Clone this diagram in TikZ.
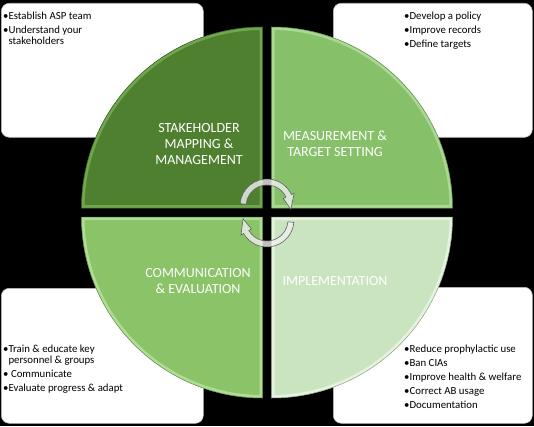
\documentclass[tikz,border=0pt]{standalone}
\usepackage{fontspec}
\setmainfont{Carlito}
\usepackage{tikz}
\usetikzlibrary{positioning,calc}
\definecolor{stkgreen}{RGB}{78,128,47}
\definecolor{stkedge}{RGB}{112,166,78}
\definecolor{meagreen}{RGB}{134,193,106}
\definecolor{meaedge}{RGB}{170,216,146}
\definecolor{comgreen}{RGB}{138,195,104}
\definecolor{comedge}{RGB}{176,220,150}
\definecolor{impgreen}{RGB}{202,228,191}
\definecolor{impedge}{RGB}{228,243,222}
\tikzset{
  infobox/.style ={draw=gray!55, fill=white, rounded corners=8pt, line width=0.6pt, anchor=north west, inner sep=0pt},
  notetext/.style={align=left, inner sep=0pt, font=\fontsize{10.8}{11.5}\selectfont},
  qlabel/.style  ={align=center, text=white, inner sep=0pt, font=\fontsize{14}{16}\selectfont},
  cycarrow/.style={fill=white!88!gray, fill opacity=0.8, draw=gray!75!black, line width=0.6pt},
}
% one quarter disc: corner x, corner y, start angle, fill, edge
\newcommand{\quadsec}[5]{%
  \begin{scope}
    \clip (#1,#2) -- ++(#3:181) arc[start angle=#3, delta angle=90, radius=181] -- cycle;
    \fill[#4] (#1,#2) -- ++(#3:181) arc[start angle=#3, delta angle=90, radius=181] -- cycle;
    \draw[#5, line width=6pt] (#1,#2) -- ++(#3:181) arc[start angle=#3, delta angle=90, radius=181] -- cycle;
  \end{scope}
  \draw[#4!70!black, line width=0.5pt] (#1,#2) -- ++(#3:181) arc[start angle=#3, delta angle=90, radius=181] -- cycle;}
\begin{document}
\begin{tikzpicture}[x=1pt,y=1pt]
  \fill[black] (0,0) rectangle (534,426);
  \useasboundingbox (0,0) rectangle (534,426);

  % corner boxes
  \node[infobox, minimum width=202pt, minimum height=134pt] (boxtl) at (1,423) {};
  \node[infobox, minimum width=199pt, minimum height=134pt] (boxtr) at (333,423) {};
  \node[infobox, minimum width=202pt, minimum height=135pt] (boxbl) at (1,138) {};
  \node[infobox, minimum width=199pt, minimum height=136pt] (boxbr) at (333,139) {};

  \node[notetext, below right=8.6pt and 2pt of boxtl.north west] (notetl)
    {•Establish ASP team\\[2.5pt] •Understand your\\ \hphantom{•}stakeholders};
  \node[notetext, below right=8.6pt and 71pt of boxtr.north west] (notetr)
    {•Develop a policy\\[2.5pt] •Improve records\\[2.5pt] •Define targets};
  \node[notetext, below right=56.6pt and 2pt of boxbl.north west] (notebl)
    {•Train \& educate key\\ \hphantom{•}personnel \& groups\\[2.5pt] • Communicate\\[2.5pt] •Evaluate progress \& adapt};
  \node[notetext, below right=57.6pt and 71pt of boxbr.north west] (notebr)
    {•Reduce prophylactic use\\[2.5pt] •Ban CIAs\\[2.5pt] •Improve health \& welfare\\[2.5pt] •Correct AB usage\\[2.5pt] •Documentation};

  % circle of four quarters
  \quadsec{262.5}{218}{90}{stkgreen}{stkedge}
  \quadsec{271.5}{218}{0}{meagreen}{meaedge}
  \quadsec{262.5}{209}{180}{comgreen}{comedge}
  \quadsec{271.5}{209}{270}{impgreen}{impedge}

  \node[qlabel] (stk) at (199,282) {STAKEHOLDER\\MAPPING \&\\MANAGEMENT};
  \node[qlabel] (mea) at (335,282) {MEASUREMENT \&\\TARGET SETTING};
  \node[qlabel] (com) at (198,145) {COMMUNICATION\\\& EVALUATION};
  \node[qlabel] (imp) at (335,145) {IMPLEMENTATION};

  % cycle arrows
  \coordinate (ctop) at (267,220);
  \coordinate (cbot) at (267,206);
  \begin{scope}[shift={(ctop)}]
    \draw[cycarrow] (175:27) arc[start angle=175, end angle=25, radius=27] -- (25:30)
      -- (-8:24) -- (25:18) -- (25:21) arc[start angle=25, end angle=175, radius=21] -- cycle;
  \end{scope}
  \begin{scope}[shift={(cbot)}]
    \draw[cycarrow] (-5:27) arc[start angle=-5, end angle=-150, radius=27] -- (-150:30)
      -- (-183:24) -- (-150:18) -- (-150:21) arc[start angle=-150, end angle=-5, radius=21] -- cycle;
  \end{scope}
\end{tikzpicture}
\end{document}
